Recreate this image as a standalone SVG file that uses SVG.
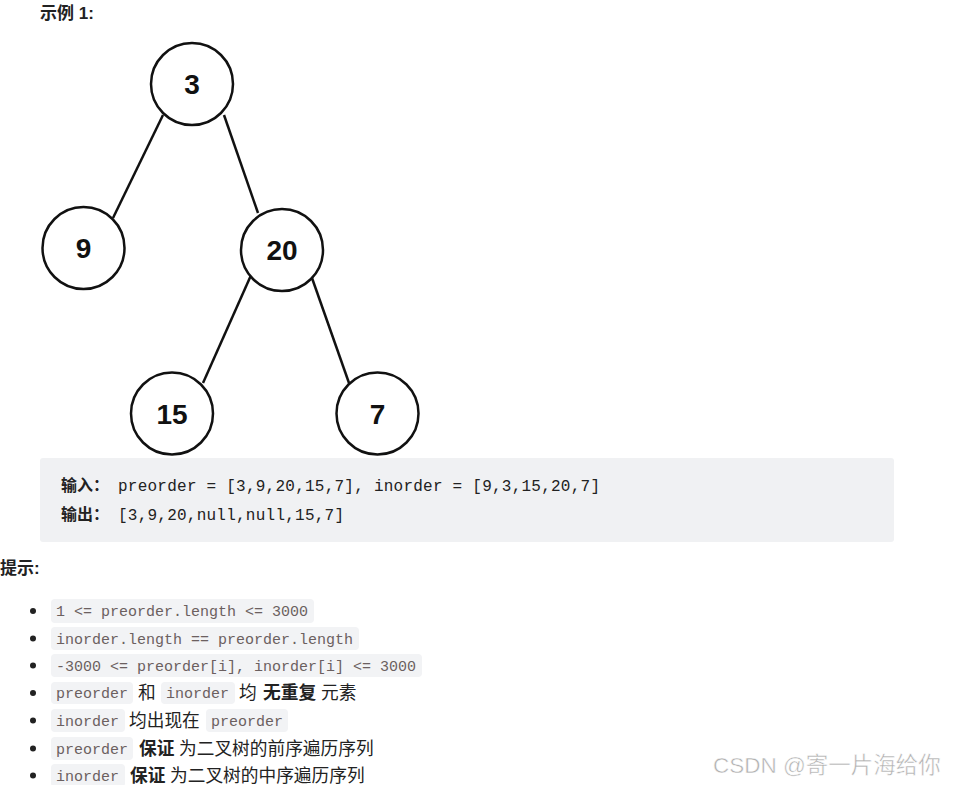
<svg xmlns="http://www.w3.org/2000/svg" width="959" height="785" viewBox="0 0 959 785">
<style>
.node circle{fill:#fff;stroke:#111;stroke-width:2.5}
.node text{font-family:"Liberation Sans",Arial,sans-serif;font-weight:bold;font-size:28px;fill:#111;text-anchor:middle}
.edge{stroke:#111;stroke-width:2.5;fill:none}
.h{font-family:"Liberation Sans","Noto Sans CJK SC",sans-serif;font-weight:bold;font-size:17px;fill:#222}
.hb{font-family:"Noto Sans CJK SC",sans-serif;font-weight:bold;font-size:16px;fill:#222}
.cj{font-family:"Noto Sans CJK SC","Noto Sans",sans-serif;font-size:17.7px;fill:#222}
.cjb{font-family:"Noto Sans CJK SC","Noto Sans",sans-serif;font-size:17.7px;font-weight:bold;fill:#222}
.mono{font-family:"Liberation Mono","DejaVu Sans Mono",monospace;font-size:16px;fill:#222}
.chip{fill:#f2f3f5}
.ct{font-family:"Liberation Mono","DejaVu Sans Mono",monospace;font-size:15px;fill:#6b6060}
.bul{fill:#222}
</style>
<rect width="959" height="785" fill="#fff"/>
<text class="h" x="40" y="19">示例 1:</text>

<g id="connectors">
<line class="edge" x1="163" y1="115" x2="113" y2="218"/>
<line class="edge" x1="224" y1="115" x2="258" y2="213"/>
<line class="edge" x1="252" y1="273" x2="203" y2="383"/>
<line class="edge" x1="312" y1="278" x2="349" y2="383"/>
</g>

<g id="node-3" class="node"><circle cx="192" cy="84" r="41"/><text x="192" y="94">3</text></g>
<g id="node-9" class="node"><circle cx="83.5" cy="248" r="41"/><text x="83.5" y="258">9</text></g>
<g id="node-20" class="node"><circle cx="282" cy="250" r="41"/><text x="282" y="260">20</text></g>
<g id="node-15" class="node"><circle cx="172" cy="413.5" r="41"/><text x="172" y="423.5">15</text></g>
<g id="node-7" class="node"><circle cx="377.5" cy="413.5" r="41"/><text x="377.5" y="423.5">7</text></g>

<rect x="40" y="458" width="854" height="84" rx="3" fill="#f0f1f3"/>
<text class="hb" x="61" y="491">输入：</text>
<text class="mono" x="118" y="491" textLength="482" lengthAdjust="spacing">preorder = [3,9,20,15,7], inorder = [9,3,15,20,7]</text>
<text class="hb" x="61" y="520">输出：</text>
<text class="mono" x="118" y="520" textLength="226" lengthAdjust="spacing">[3,9,20,null,null,15,7]</text>

<text class="h" x="0" y="574">提示:</text>

<g>
<circle class="bul" cx="33" cy="611" r="3"/>
<circle class="bul" cx="33" cy="638.5" r="3"/>
<circle class="bul" cx="33" cy="665.5" r="3"/>
<circle class="bul" cx="33" cy="693" r="3"/>
<circle class="bul" cx="33" cy="720.5" r="3"/>
<circle class="bul" cx="33" cy="748.5" r="3"/>
<circle class="bul" cx="33" cy="775.5" r="3"/>
</g>

<rect class="chip" x="51" y="599" width="263" height="24" rx="4"/>
<text class="ct" x="56" y="616">1 &lt;= preorder.length &lt;= 3000</text>

<rect class="chip" x="51" y="627" width="308" height="23" rx="4"/>
<text class="ct" x="56" y="643.5">inorder.length == preorder.length</text>

<rect class="chip" x="51" y="654" width="371" height="23" rx="4"/>
<text class="ct" x="56" y="670.5">-3000 &lt;= preorder[i], inorder[i] &lt;= 3000</text>

<rect class="chip" x="51" y="682" width="82" height="22" rx="4"/>
<text class="ct" x="56" y="698">preorder</text>
<text class="cj" x="138" y="699">和</text>
<rect class="chip" x="161" y="682" width="74" height="22" rx="4"/>
<text class="ct" x="166" y="698">inorder</text>
<text class="cj" x="239" y="699">均</text>
<text class="cjb" x="263" y="699">无重复</text>
<text class="cj" x="321" y="699">元素</text>

<rect class="chip" x="51" y="709" width="74" height="23" rx="4"/>
<text class="ct" x="56" y="725.5">inorder</text>
<text class="cj" x="129" y="726.5">均出现在</text>
<rect class="chip" x="206" y="709" width="82" height="23" rx="4"/>
<text class="ct" x="211" y="725.5">preorder</text>

<rect class="chip" x="51" y="737" width="82" height="23" rx="4"/>
<text class="ct" x="56" y="753.5">preorder</text>
<text class="cjb" x="139" y="754.5">保证</text>
<text class="cj" x="179" y="754.5">为二叉树的前序遍历序列</text>

<rect class="chip" x="51" y="764" width="74" height="23" rx="4"/>
<text class="ct" x="56" y="780.5">inorder</text>
<text class="cjb" x="130" y="781.5">保证</text>
<text class="cj" x="170" y="781.5">为二叉树的中序遍历序列</text>

<text x="713" y="773" font-family="Liberation Sans,'Noto Sans CJK SC',sans-serif" font-size="22.5" fill="#b0b0b0" stroke="#fff" stroke-width="0.5">CSDN @寄一片海给你</text>
</svg>
